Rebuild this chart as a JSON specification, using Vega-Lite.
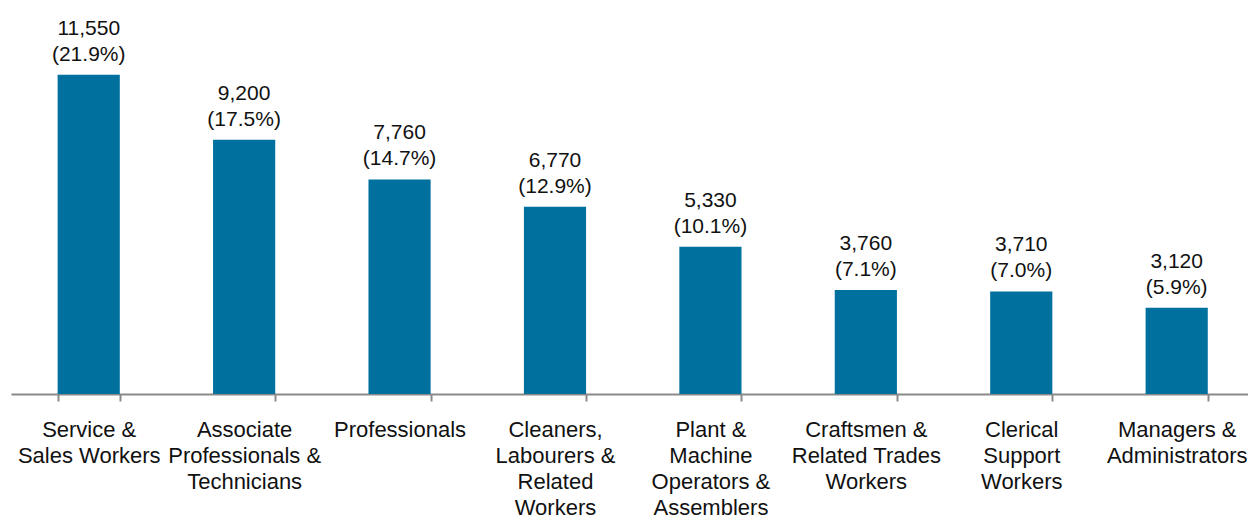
{
  "$schema": "https://vega.github.io/schema/vega-lite/v6.json",
  "width": 1237,
  "height": 387,
  "autosize": {"type": "none"},
  "padding": {"left": 11, "top": 7, "right": 0, "bottom": 123},
  "background": "white",
  "config": {
    "view": {"stroke": null},
    "font": "Liberation Sans"
  },
  "data": {
    "values": [
      {"occupation": "Service &|Sales Workers", "persons": 11550, "pct": 21.9},
      {"occupation": "Associate|Professionals &|Technicians", "persons": 9200, "pct": 17.5},
      {"occupation": "Professionals", "persons": 7760, "pct": 14.7},
      {"occupation": "Cleaners,|Labourers &|Related|Workers", "persons": 6770, "pct": 12.9},
      {"occupation": "Plant &|Machine|Operators &|Assemblers", "persons": 5330, "pct": 10.1},
      {"occupation": "Craftsmen &|Related Trades|Workers", "persons": 3760, "pct": 7.1},
      {"occupation": "Clerical|Support|Workers", "persons": 3710, "pct": 7.0},
      {"occupation": "Managers &|Administrators", "persons": 3120, "pct": 5.9}
    ]
  },
  "transform": [
    {"calculate": "[format(datum.persons, ','), '(' + format(datum.pct, '.1f') + '%)']", "as": "label"}
  ],
  "encoding": {
    "x": {
      "field": "occupation",
      "type": "nominal",
      "sort": null,
      "scale": {"range": [0, 1243.4], "paddingInner": 0.6, "paddingOuter": 0.3},
      "axis": {
        "title": null,
        "labelAngle": 0,
        "labelExpr": "split(datum.label, '|')",
        "labelFont": "Liberation Sans",
        "labelFontSize": 22,
        "labelLineHeight": 26,
        "labelColor": "#111111",
        "labelPadding": 18,
        "labelBaseline": "top",
        "labelOverlap": false,
        "labelBound": false,
        "labelLimit": 0,
        "domainColor": "#8a8a8a",
        "domainWidth": 2,
        "tickColor": "#8a8a8a",
        "tickWidth": 2,
        "tickSize": 7,
        "tickBand": "extent",
        "grid": false
      }
    },
    "y": {
      "field": "persons",
      "type": "quantitative",
      "scale": {"domain": [0, 14000], "nice": false},
      "axis": null
    }
  },
  "layer": [
    {
      "mark": {"type": "bar", "color": "#00709f"}
    },
    {
      "mark": {
        "type": "text",
        "baseline": "alphabetic",
        "align": "center",
        "dy": -40,
        "fontSize": 21,
        "lineHeight": 26,
        "font": "Liberation Sans",
        "color": "#111111"
      },
      "encoding": {"text": {"field": "label"}}
    }
  ]
}
